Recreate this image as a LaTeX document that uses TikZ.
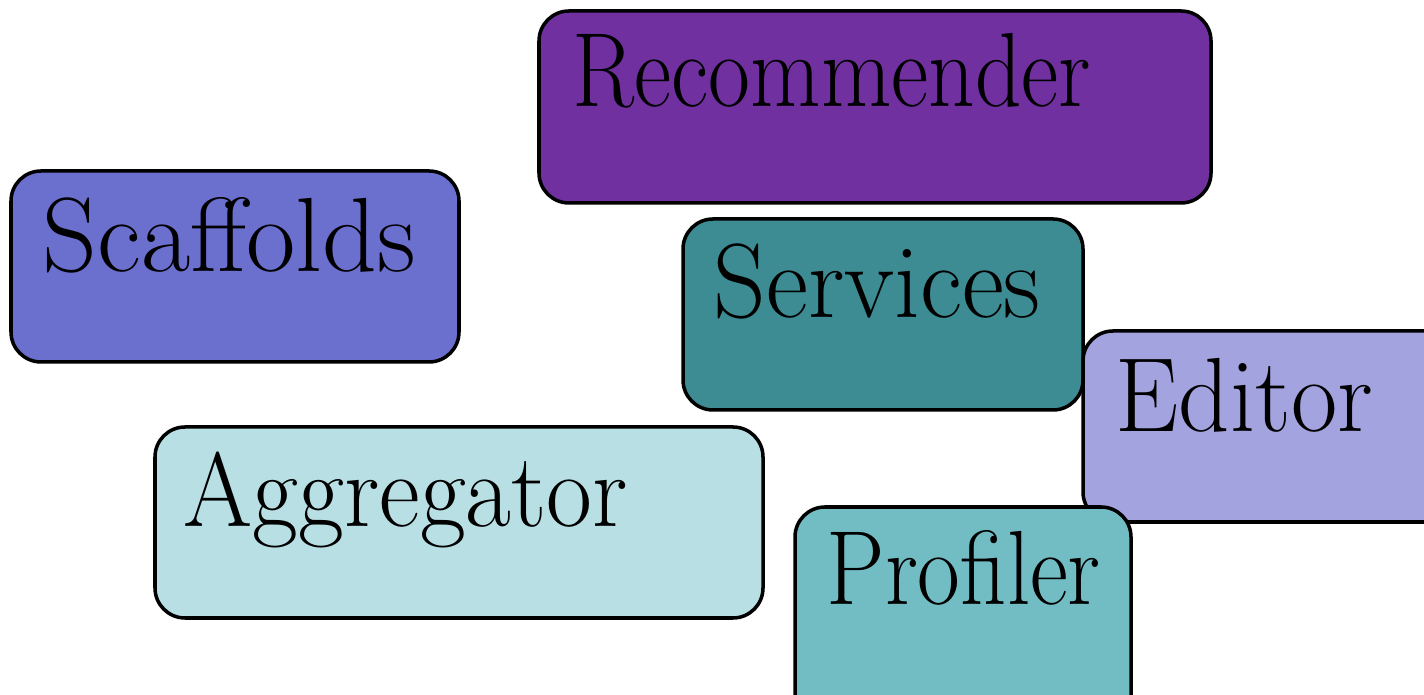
\documentclass[tikz,border=0pt]{standalone}
\usepackage{graphicx}
\definecolor{recfill}{HTML}{7030A0}
\definecolor{scafill}{HTML}{6B6FCE}
\definecolor{serfill}{HTML}{3D8B93}
\definecolor{edifill}{HTML}{A3A3DF}
\definecolor{aggfill}{HTML}{B8E0E4}
\definecolor{profill}{HTML}{72BDC4}
\tikzset{
  module/.style={draw=black, line width=1pt, rounded corners=0.3cm},
  label/.style={anchor=base west, inner sep=0pt, font=\fontsize{30}{36}\selectfont},
}
% stretch a label horizontally to a given width, keeping its height
\newcommand{\modtext}[2]{\resizebox{#1}{\height}{#2}}
\begin{document}
\begin{tikzpicture}[x=0.01cm, y=-0.01cm]
  \clip (0,0) rectangle (1424,695);
  \fill[white] (0,0) rectangle (1424,695);
  % module boxes, back to front
  \draw[module, fill=recfill] (539,11) rectangle (1211,203);
  \node[label] (rec) at (572,107) {\modtext{5.18cm}{Recommender}};
  \draw[module, fill=scafill] (11,171) rectangle (459,362);
  \node[label] (sca) at (42,272) {\modtext{3.73cm}{Scaffolds}};
  \draw[module, fill=serfill] (683,219) rectangle (1083,410);
  \node[label] (ser) at (713,318) {\modtext{3.27cm}{Services}};
  \draw[module, fill=edifill] (1083,331) rectangle (1460,522);
  \node[label] (edi) at (1115,432) {\modtext{2.57cm}{Editor}};
  \draw[module, fill=aggfill] (155,427) rectangle (763,618);
  \node[label] (agg) at (183,527) {\modtext{4.44cm}{Aggregator}};
  \draw[module, fill=profill] (795,507) rectangle (1131,730);
  \node[label] (pro) at (826,605) {\modtext{2.74cm}{Profiler}};
\end{tikzpicture}
\end{document}
